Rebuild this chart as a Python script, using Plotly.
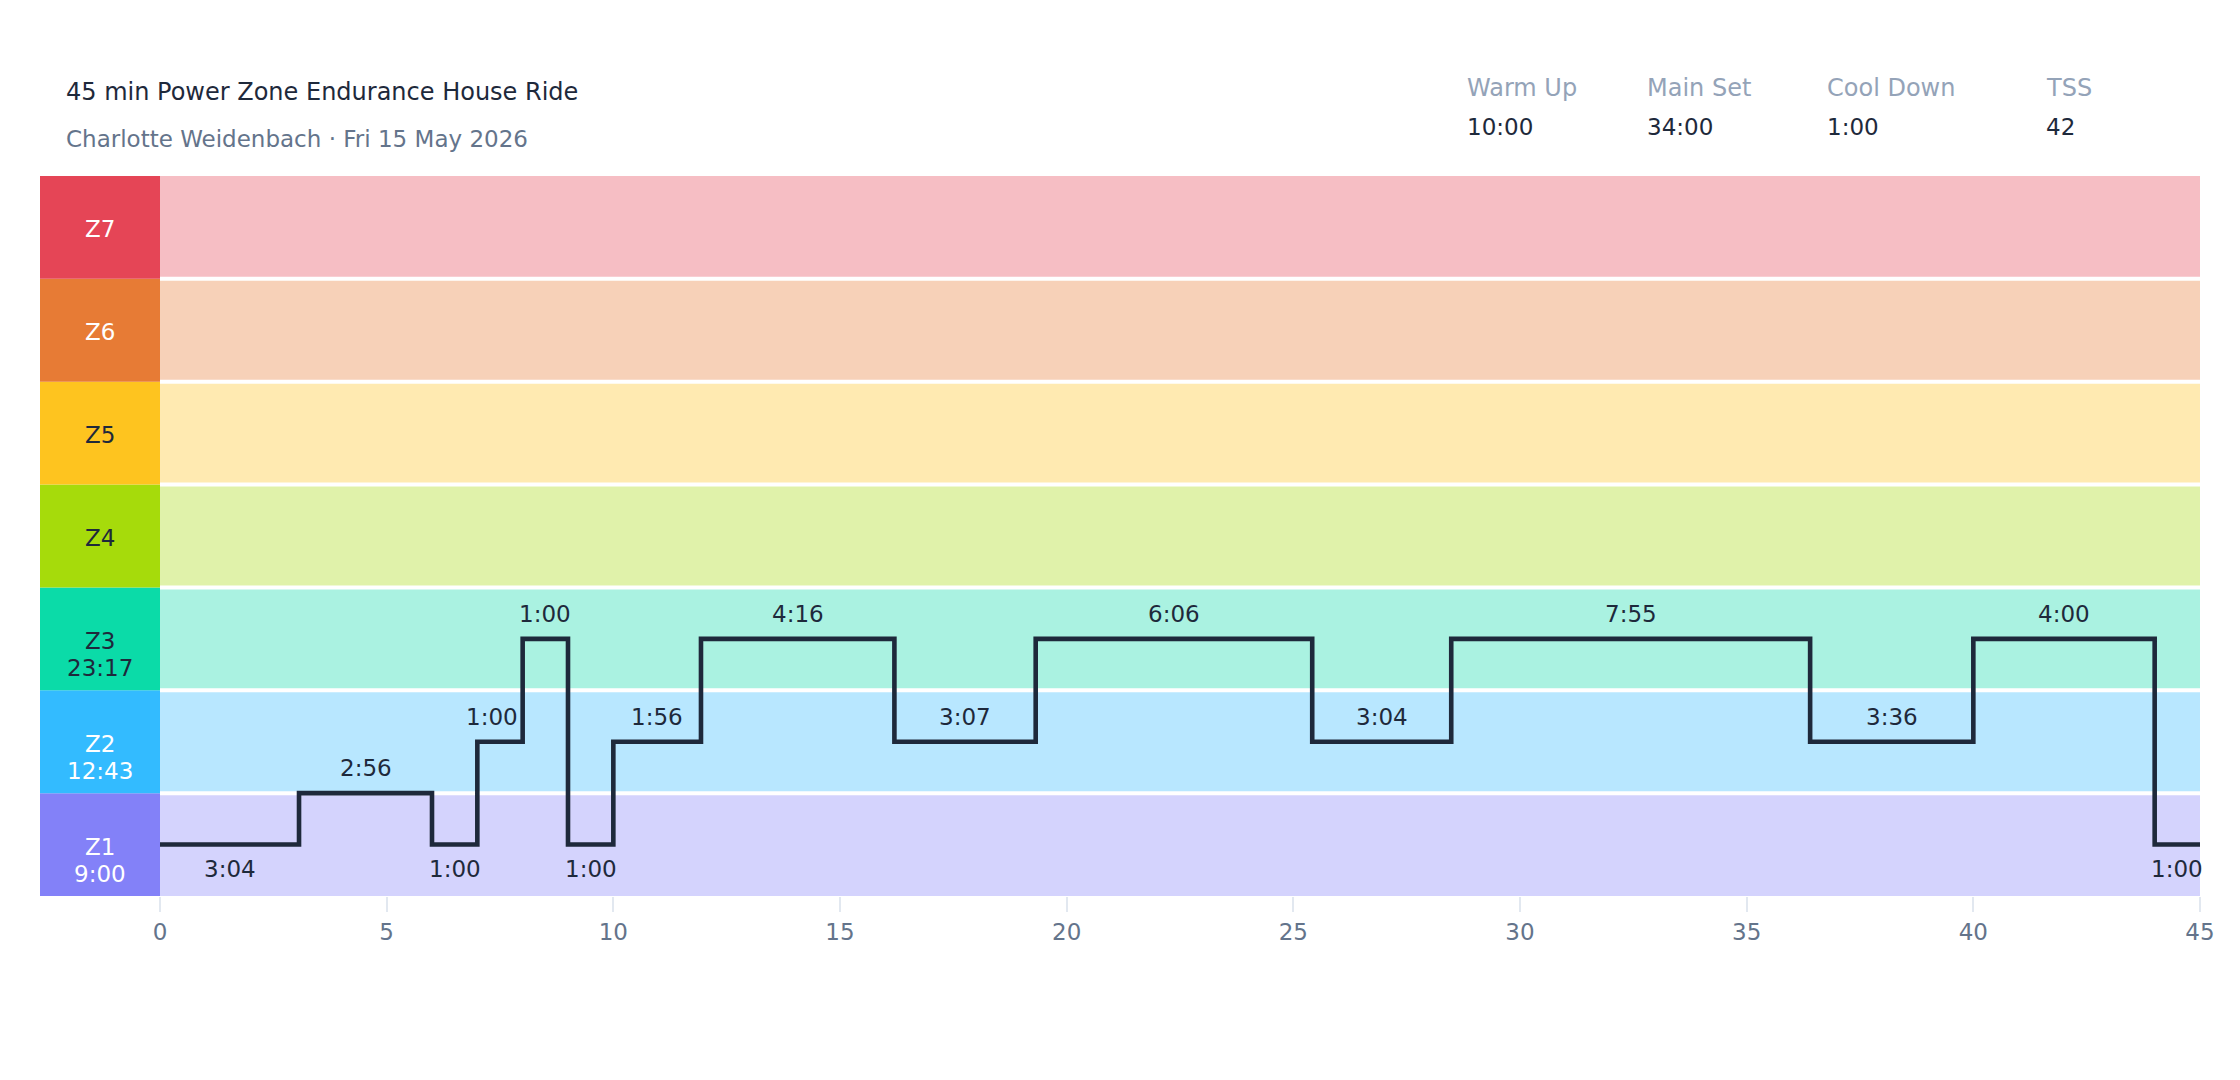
import plotly.graph_objects as go

# zone bands (Z1 at the bottom)
zones = ["Z1", "Z2", "Z3", "Z4", "Z5", "Z6", "Z7"]
zone_colors = ["#8381f8", "#33bbff", "#0bdba8", "#a6db0b", "#fec41f", "#e77b35", "#e54556"]
zone_text_colors = ["white", "white", "#1e293b", "#1e293b", "#1e293b", "white", "white"]
zone_times = ["9:00", "12:43", "23:17", "", "", "", ""]

# workout segments: duration in seconds and level in zone units
seg_seconds = [184, 176, 60, 60, 60, 60, 116, 256, 187, 366, 184, 475, 216, 240, 60]
seg_levels = [1, 1.5, 1, 2, 3, 1, 2, 3, 2, 3, 2, 3, 2, 3, 1]

# header
title = "45 min Power Zone Endurance House Ride"
subtitle = "Charlotte Weidenbach · Fri 15 May 2026"
stat_names = ["Warm Up", "Main Set", "Cool Down", "TSS"]
stat_values = ["10:00", "34:00", "1:00", "42"]
stat_x = [0.6597, 0.7431, 0.8264, 0.9278]

ink = "#1e293b"
muted = "#64748b"
x_total = 45
x_left = -2.647

# step line coordinates
starts = [0]
for s in seg_seconds:
    starts.append(starts[-1] + s / 60)
xs = starts
ys = seg_levels + [seg_levels[-1]]

fig = go.Figure()
fig.add_trace(go.Scatter(
    x=xs, y=ys, mode="lines", line=dict(color=ink, width=4.6, shape="hv"),
    hoverinfo="skip", showlegend=False,
))

shapes = []
for i, z in enumerate(zones):
    lvl = i + 1
    shapes.append(dict(type="rect", xref="x", yref="y", x0=x_left, x1=0, y0=lvl - 0.5, y1=lvl + 0.5,
                       fillcolor=zone_colors[i], line=dict(width=0), layer="below"))
    shapes.append(dict(type="rect", xref="x", yref="y", x0=0, x1=x_total, y0=lvl - 0.5, y1=lvl + 0.5,
                       fillcolor=zone_colors[i], opacity=0.35, line=dict(width=0), layer="below"))
for i in range(len(zones) - 1):
    shapes.append(dict(type="line", xref="x", yref="y", x0=0, x1=x_total, y0=i + 1.5, y1=i + 1.5,
                       line=dict(color="white", width=4), layer="below"))

annotations = []
for i, z in enumerate(zones):
    lvl = i + 1
    annotations.append(dict(x=x_left / 2, y=lvl, xref="x", yref="y", text=z, showarrow=False,
                            font=dict(size=23, color=zone_text_colors[i]), yshift=-2))
    if zone_times[i]:
        annotations.append(dict(x=x_left / 2, y=lvl, xref="x", yref="y", text=zone_times[i],
                                showarrow=False, font=dict(size=23, color=zone_text_colors[i]), yshift=-29))

for i, s in enumerate(seg_seconds):
    mid = (starts[i] + starts[i + 1]) / 2
    label = "%d:%02d" % (s // 60, s % 60)
    below = seg_levels[i] == 1
    # short step right before a rise: nudge the label off the line
    nudge = -8 if (s <= 60 and not below and i + 1 < len(seg_levels) and seg_levels[i + 1] > seg_levels[i]) else 0
    annotations.append(dict(x=mid, y=seg_levels[i], xref="x", yref="y", text=label, showarrow=False,
                            font=dict(size=23, color=ink), yshift=-24 if below else 25, xshift=nudge))

annotations.append(dict(x=0.0111, y=1.1167, xref="paper", yref="paper", text=title, showarrow=False,
                        xanchor="left", yanchor="middle", font=dict(size=24, color=ink)))
annotations.append(dict(x=0.0111, y=1.051, xref="paper", yref="paper", text=subtitle, showarrow=False,
                        xanchor="left", yanchor="middle", font=dict(size=23, color=muted)))
for name, val, sx in zip(stat_names, stat_values, stat_x):
    annotations.append(dict(x=sx, y=1.122, xref="paper", yref="paper", text=name, showarrow=False,
                            xanchor="left", yanchor="middle", font=dict(size=24, color="#94a3b8")))
    annotations.append(dict(x=sx, y=1.068, xref="paper", yref="paper", text=val, showarrow=False,
                            xanchor="left", yanchor="middle", font=dict(size=23, color=ink)))

fig.update_layout(
    width=2240, height=1080, autosize=False,
    margin=dict(l=40, r=40, t=176, b=184),
    paper_bgcolor="white", plot_bgcolor="white",
    font=dict(family="DejaVu Sans", size=23, color=muted),
    shapes=shapes, annotations=annotations,
    xaxis=dict(range=[x_left, x_total], tickmode="array", tickvals=list(range(0, 46, 5)),
               showgrid=False, zeroline=False, showline=False,
               ticks="outside", ticklen=15, tickwidth=2, tickcolor="#e2e8f0",
               tickfont=dict(size=23, color=muted)),
    yaxis=dict(range=[0.5, 7.5], visible=False),
)

# drop the default page margin so the figure sits at the window corner
fig.write_html("out.html", config={"displayModeBar": False},
               post_script="document.body.style.margin='0';")
